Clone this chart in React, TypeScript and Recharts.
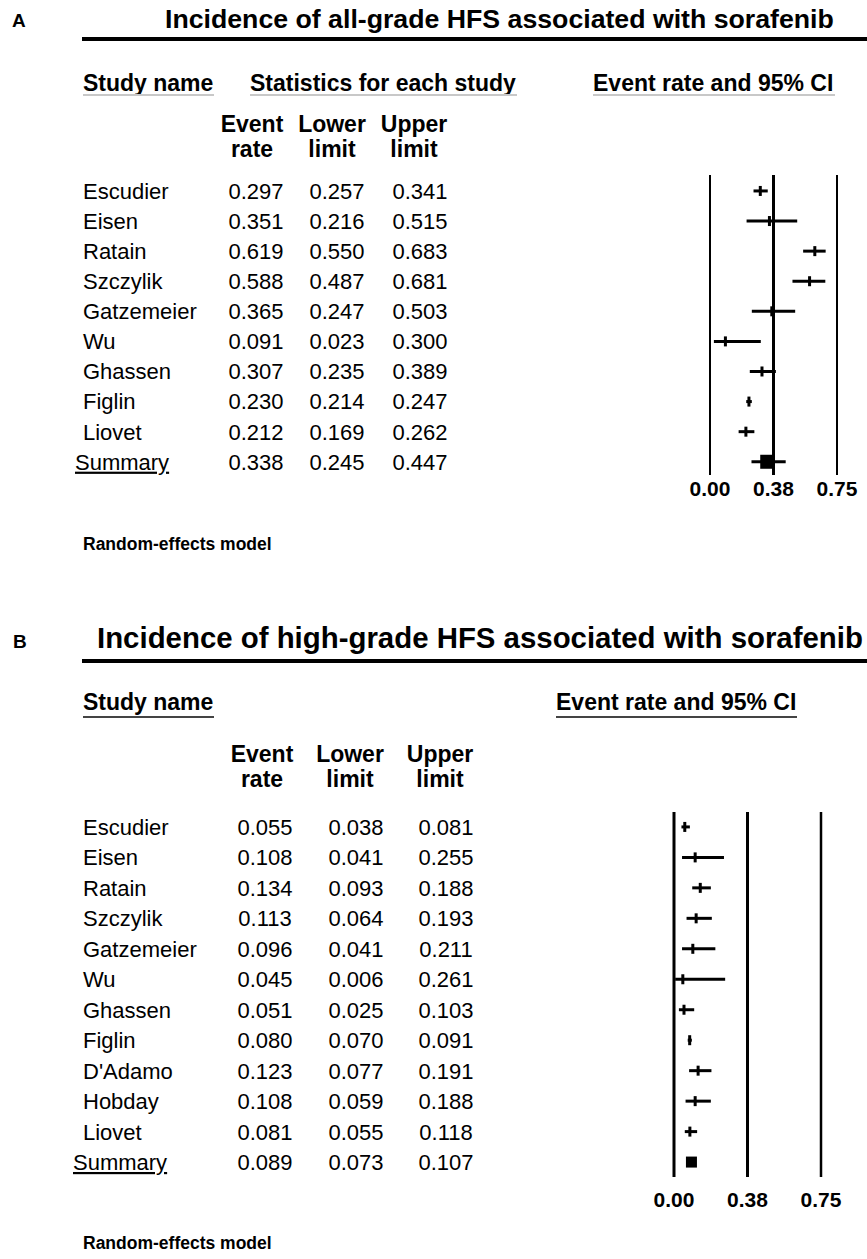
import React from 'react'
import { ComposedChart, Scatter, XAxis, YAxis, ErrorBar, ReferenceLine } from 'recharts'

const FONT = '"Liberation Sans", Arial, Helvetica, sans-serif'

// panel A: all-grade HFS
const studiesA = ['Escudier', 'Eisen', 'Ratain', 'Szczylik', 'Gatzemeier', 'Wu', 'Ghassen', 'Figlin', 'Liovet', 'Summary']
const rateA = [0.297, 0.351, 0.619, 0.588, 0.365, 0.091, 0.307, 0.23, 0.212, 0.338]
const lowerA = [0.257, 0.216, 0.55, 0.487, 0.247, 0.023, 0.235, 0.214, 0.169, 0.245]
const upperA = [0.341, 0.515, 0.683, 0.681, 0.503, 0.3, 0.389, 0.247, 0.262, 0.447]

// panel B: high-grade HFS
const studiesB = ['Escudier', 'Eisen', 'Ratain', 'Szczylik', 'Gatzemeier', 'Wu', 'Ghassen', 'Figlin', "D'Adamo", 'Hobday', 'Liovet', 'Summary']
const rateB = [0.055, 0.108, 0.134, 0.113, 0.096, 0.045, 0.051, 0.08, 0.123, 0.108, 0.081, 0.089]
const lowerB = [0.038, 0.041, 0.093, 0.064, 0.041, 0.006, 0.025, 0.07, 0.077, 0.059, 0.055, 0.073]
const upperB = [0.081, 0.255, 0.188, 0.193, 0.211, 0.261, 0.103, 0.091, 0.191, 0.188, 0.118, 0.107]

const axisTicks = [0, 0.375, 0.75]
const axisLabels = ['0.00', '0.38', '0.75']

type Row = { idx: number; name: string; ev: number; lo: number; hi: number; err: number[]; summary: boolean }

const buildRows = (names: string[], ev: number[], lo: number[], hi: number[]): Row[] =>
  names.map((name, i) => ({
    idx: i,
    name,
    ev: ev[i],
    lo: lo[i],
    hi: hi[i],
    err: [ev[i] - lo[i], hi[i] - ev[i]],
    summary: name === 'Summary',
  }))

const rowsA = buildRows(studiesA, rateA, lowerA, upperA)
const rowsB = buildRows(studiesB, rateB, lowerB, upperB)

interface PanelProps {
  rows: Row[]
  top: number
  height: number
  plotTop: number
  plotBottom: number
  plotLeft: number
  plotRight: number
  domain: [number, number]
  cols: number[]
  summaryX: number
  boxSize: number
  lineWidths: number[]
  tickGap: number
}

function Panel({ rows, top, height, plotTop, plotBottom, plotLeft, plotRight, domain, cols, summaryX, boxSize, lineWidths, tickGap }: PanelProps) {
  const xAxisHeight = 40

  const RowTick = (props: any) => {
    const { y, payload } = props
    const r = rows[payload.value]
    if (!r) return null
    const common = { y, dy: '0.36em', fontSize: 22, fontFamily: FONT, fill: '#000' }
    return (
      <g>
        <text {...common} x={r.summary ? summaryX : 83} textDecoration={r.summary ? 'underline' : undefined}>
          {r.name}
        </text>
        <text {...common} x={cols[0]} textAnchor="middle">{r.ev.toFixed(3)}</text>
        <text {...common} x={cols[1]} textAnchor="middle">{r.lo.toFixed(3)}</text>
        <text {...common} x={cols[2]} textAnchor="middle">{r.hi.toFixed(3)}</text>
      </g>
    )
  }

  const Marker = (props: any) => {
    const { cx, cy, payload } = props
    if (payload.summary) {
      return <rect x={cx - boxSize / 2} y={cy - boxSize / 2} width={boxSize} height={boxSize} fill="#000" />
    }
    return <rect x={cx - 1.5} y={cy - 5} width={3} height={10} fill="#000" />
  }

  return (
    <div style={{ position: 'absolute', left: 0, top }}>
      <ComposedChart
        width={867}
        height={height}
        data={rows}
        margin={{ top: plotTop, right: 867 - plotRight, bottom: height - plotBottom - xAxisHeight, left: 0 }}
      >
        <XAxis
          type="number"
          dataKey="ev"
          domain={[0, 0.75]}
          ticks={axisTicks}
          tickFormatter={(v: number) => axisLabels[axisTicks.indexOf(v)]}
          axisLine={false}
          tickLine={false}
          tickSize={tickGap}
          tickMargin={2}
          height={xAxisHeight}
          tick={{ fontSize: 21, fontWeight: 'bold', fill: '#000', fontFamily: FONT }}
        />
        <YAxis
          type="number"
          dataKey="idx"
          domain={domain}
          reversed
          ticks={rows.map(r => r.idx)}
          interval={0}
          axisLine={false}
          tickLine={false}
          width={plotLeft}
          tick={RowTick}
        />
        {axisTicks.map((t, i) => (
          <ReferenceLine key={t} x={t} stroke="#000" strokeWidth={lineWidths[i]} />
        ))}
        <Scatter data={rows} shape={Marker} isAnimationActive={false}>
          <ErrorBar dataKey="err" direction="x" width={0} stroke="#000" strokeWidth={3} isAnimationActive={false} />
        </Scatter>
      </ComposedChart>
    </div>
  )
}

const bold = { fontFamily: FONT, fontWeight: 'bold', fill: '#000' } as const

export default function App() {
  return (
    <div style={{ position: 'absolute', left: 0, top: 0, width: 867, height: 1259, background: '#fff', overflow: 'hidden' }}>
      <Panel
        rows={rowsA}
        top={0}
        height={620}
        plotTop={175}
        plotBottom={475}
        plotLeft={710}
        plotRight={837}
        domain={[-0.53, 9.44]}
        cols={[256, 337, 420]}
        summaryX={75}
        boxSize={14}
        lineWidths={[2, 3, 2]}
        tickGap={4}
      />
      <Panel
        rows={rowsB}
        top={620}
        height={639}
        plotTop={192}
        plotBottom={557}
        plotLeft={674}
        plotRight={821}
        domain={[-0.49, 11.49]}
        cols={[265, 356, 446]}
        summaryX={73}
        boxSize={11}
        lineWidths={[3, 3, 2.5]}
        tickGap={13}
      />
      <svg width={867} height={1259} style={{ position: 'absolute', left: 0, top: 0, pointerEvents: 'none' }}>
        {/* panel A headings */}
        <text x={12} y={27} fontSize={19} {...bold}>A</text>
        <text x={165} y={28} fontSize={26.7} {...bold}>Incidence of all-grade HFS associated with sorafenib</text>
        <line x1={82} x2={867} y1={39} y2={39} stroke="#000" strokeWidth={4} />
        <text x={83} y={91} fontSize={23} {...bold}>Study name</text>
        <line x1={83} x2={214} y1={95} y2={95} stroke="#c8c8c8" strokeWidth={2} />
        <text x={250} y={91} fontSize={23} {...bold}>Statistics for each study</text>
        <line x1={250} x2={517} y1={95} y2={95} stroke="#c8c8c8" strokeWidth={2} />
        <text x={593} y={91} fontSize={23} {...bold}>Event rate and 95% CI</text>
        <line x1={593} x2={835} y1={95} y2={95} stroke="#c8c8c8" strokeWidth={2} />
        <g fontSize={23} textAnchor="middle" {...bold}>
          <text x={252} y={132}>Event</text>
          <text x={252} y={157}>rate</text>
          <text x={332} y={132}>Lower</text>
          <text x={332} y={157}>limit</text>
          <text x={414} y={132}>Upper</text>
          <text x={414} y={157}>limit</text>
        </g>
        <text x={83} y={550} fontSize={17.5} {...bold}>Random-effects model</text>

        {/* panel B headings */}
        <text x={13} y={648} fontSize={19} {...bold}>B</text>
        <text x={97} y={648} fontSize={29.4} {...bold}>Incidence of high-grade HFS associated with sorafenib</text>
        <line x1={82} x2={867} y1={661} y2={661} stroke="#000" strokeWidth={4} />
        <text x={83} y={710} fontSize={23} {...bold}>Study name</text>
        <line x1={83} x2={214} y1={717} y2={717} stroke="#444" strokeWidth={2} />
        <text x={556} y={710} fontSize={23} {...bold}>Event rate and 95% CI</text>
        <line x1={556} x2={797} y1={717} y2={717} stroke="#444" strokeWidth={2} />
        <g fontSize={23} textAnchor="middle" {...bold}>
          <text x={262} y={762}>Event</text>
          <text x={262} y={787}>rate</text>
          <text x={350} y={762}>Lower</text>
          <text x={350} y={787}>limit</text>
          <text x={440} y={762}>Upper</text>
          <text x={440} y={787}>limit</text>
        </g>
        <text x={83} y={1249} fontSize={17.5} {...bold}>Random-effects model</text>
      </svg>
    </div>
  )
}
